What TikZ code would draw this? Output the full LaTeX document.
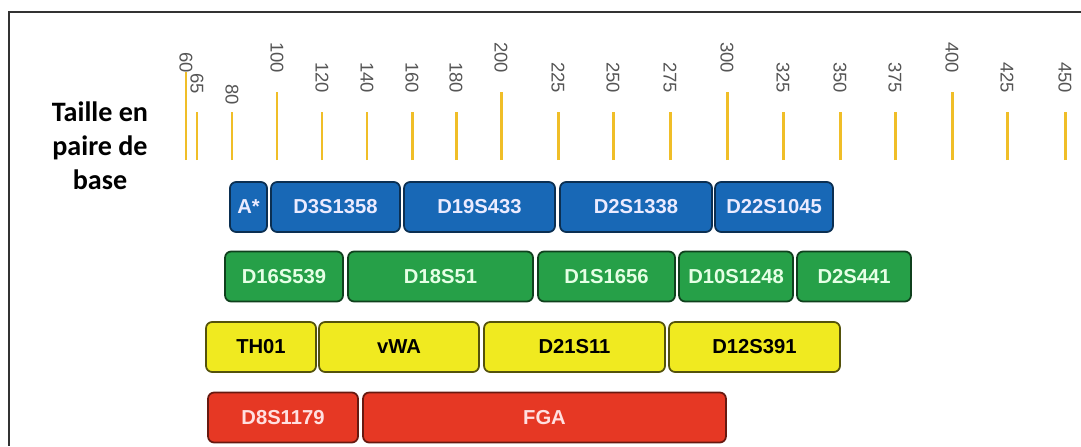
\documentclass[tikz,border=0pt]{standalone}
\usepackage{fontspec}
\setmainfont{Liberation Sans}
\newfontfamily\titlefont{Carlito}
\definecolor{tickorange}{RGB}{240, 190, 40}
\definecolor{ticktext}{RGB}{85, 85, 85}
\definecolor{framegray}{RGB}{50, 50, 50}
\definecolor{strblue}{RGB}{24, 104, 182}
\definecolor{strgreen}{RGB}{38, 160, 72}
\definecolor{stryellow}{RGB}{240, 234, 32}
\definecolor{strred}{RGB}{230, 56, 36}
\usepackage{tikz}
\usetikzlibrary{positioning}

\tikzset{
    tickline/.style={draw=tickorange, line width=1.7pt},
    ticklabel/.style={rotate=-90, anchor=west, inner sep=0pt, text=ticktext,
        font=\fontsize{10.5}{12}\selectfont},
    strbox/.style={rounded corners=3.5pt, line width=1pt, minimum height=1cm,
        inner sep=0pt, font=\bfseries\fontsize{11.5}{13}\selectfont},
    bluebox/.style={strbox, fill=strblue, draw=strblue!45!black, text=blue!8!white},
    greenbox/.style={strbox, fill=strgreen, draw=strgreen!40!black, text=green!10!white},
    yellowbox/.style={strbox, fill=stryellow, draw=stryellow!35!black, text=black},
    redbox/.style={strbox, fill=strred, draw=strred!45!black, text=red!12!white}
}

\begin{document}
\begin{tikzpicture}[x=0.02cm, y=-0.02cm]
                    \useasboundingbox (0,0) rectangle (1081,446);
                    
                    % Frame (top and left)
                    \draw[framegray, line width=0.8pt] (1081,12) -- (9,12) -- (9,446);
                    
                    % Axis title
                    \node[font=\titlefont\bfseries\fontsize{16}{19.3}\selectfont, align=center] 
                        (title) at (100,146) {Taille en\\paire de\\base};
                    
                    % Size scale ticks
                    \draw[tickline] (186,160) -- (186,72);
                    \node[ticklabel] (t60) at (186,52) {60};
                    \draw[tickline] (197,160) -- (197,112);
                    \node[ticklabel] (t65) at (197,73) {65};
                    \draw[tickline] (232,160) -- (232,112);
                    \node[ticklabel] (t80) at (232,84) {80};
                    \draw[tickline] (277,160) -- (277,92);
                    \node[ticklabel] (t100) at (277,42) {100};
                    \draw[tickline] (322,160) -- (322,112);
                    \node[ticklabel] (t120) at (322,62) {120};
                    \draw[tickline] (367,160) -- (367,112);
                    \node[ticklabel] (t140) at (367,62) {140};
                    \draw[tickline] (412,160) -- (412,112);
                    \node[ticklabel] (t160) at (412,62) {160};
                    \draw[tickline] (456,160) -- (456,112);
                    \node[ticklabel] (t180) at (456,62) {180};
                    \draw[tickline] (501,160) -- (501,92);
                    \node[ticklabel] (t200) at (501,42) {200};
                    \draw[tickline] (558,160) -- (558,112);
                    \node[ticklabel] (t225) at (558,62) {225};
                    \draw[tickline] (613,160) -- (613,112);
                    \node[ticklabel] (t250) at (613,62) {250};
                    \draw[tickline] (670,160) -- (670,112);
                    \node[ticklabel] (t275) at (670,62) {275};
                    \draw[tickline] (727,160) -- (727,92);
                    \node[ticklabel] (t300) at (727,42) {300};
                    \draw[tickline] (783,160) -- (783,112);
                    \node[ticklabel] (t325) at (783,62) {325};
                    \draw[tickline] (840,160) -- (840,112);
                    \node[ticklabel] (t350) at (840,62) {350};
                    \draw[tickline] (895,160) -- (895,112);
                    \node[ticklabel] (t375) at (895,62) {375};
                    \draw[tickline] (952,160) -- (952,92);
                    \node[ticklabel] (t400) at (952,42) {400};
                    \draw[tickline] (1007,160) -- (1007,112);
                    \node[ticklabel] (t425) at (1007,62) {425};
                    \draw[tickline] (1065,160) -- (1065,112);
                    \node[ticklabel] (t450) at (1065,62) {450};
                    
                    % Blue dye markers
                    \node[bluebox, minimum width=0.74cm] (amel) at (248.5,207) {A*};
                    \node[bluebox, minimum width=2.58cm] (d3s1358) at (335.5,207) {D3S1358};
                    \node[bluebox, minimum width=3.02cm] (d19s433) at (479.5,207) {D19S433};
                    \node[bluebox, minimum width=3.04cm] (d2s1338) at (636,207) {D2S1338};
                    \node[bluebox, minimum width=2.36cm] (d22s1045) at (774,207) {D22S1045};
                    
                    % Green dye markers
                    \node[greenbox, minimum width=2.36cm] (d16s539) at (284,276.5) {D16S539};
                    \node[greenbox, minimum width=3.70cm] (d18s51) at (440.5,276.5) {D18S51};
                    \node[greenbox, minimum width=2.74cm] (d1s1656) at (606.5,276.5) {D1S1656};
                    \node[greenbox, minimum width=2.28cm] (d10s1248) at (736,276.5) {D10S1248};
                    \node[greenbox, minimum width=2.28cm] (d2s441) at (854,276.5) {D2S441};
                    
                    % Yellow dye markers
                    \node[yellowbox, minimum width=2.20cm, text=black] (th01) at (261,347) {TH01};
                    \node[yellowbox, minimum width=3.20cm] (vwa) at (399,347) {vWA};
                    \node[yellowbox, minimum width=3.62cm] (d21s11) at (574.5,347) {D21S11};
                    \node[yellowbox, minimum width=3.42cm] (d12s391) at (754.5,347) {D12S391};
                    
                    % Red dye markers
                    \node[redbox, minimum width=3.00cm] (d8s1179) at (283,417.5) {D8S1179};
                    \node[redbox, minimum width=7.26cm] (fga) at (544.5,417.5) {FGA};
                \end{tikzpicture}
\end{document}
